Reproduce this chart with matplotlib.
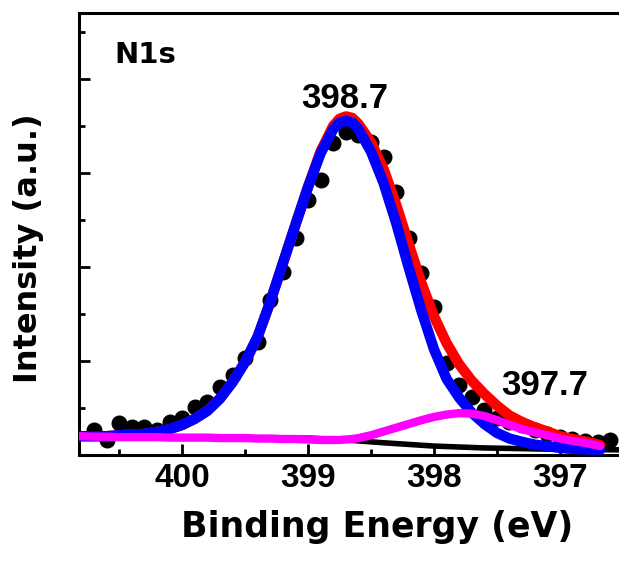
import matplotlib
matplotlib.use('Agg')
import matplotlib.pyplot as plt
from matplotlib.ticker import MultipleLocator

# measured points (binding energy, intensity)
be_data = [400.7, 400.6, 400.5, 400.4, 400.3, 400.2, 400.1, 400.0, 399.9, 399.8,
           399.7, 399.6, 399.5, 399.4, 399.3, 399.2, 399.1, 399.0, 398.9, 398.8,
           398.7, 398.6, 398.5, 398.4, 398.3, 398.2, 398.1, 398.0, 397.9, 397.8,
           397.7, 397.6, 397.5, 397.4, 397.3, 397.2, 397.1, 397.0, 396.9, 396.8,
           396.7, 396.6]
int_data = [0.53, 0.32, 0.68, 0.60, 0.60, 0.53, 0.70, 0.79, 1.02, 1.13,
            1.45, 1.70, 2.06, 2.40, 3.30, 3.89, 4.62, 5.43, 5.85, 6.64,
            6.87, 6.81, 6.66, 6.34, 5.60, 4.62, 3.87, 3.15, 1.96, 1.49,
            1.23, 0.96, 0.79, 0.70, 0.64, 0.53, 0.45, 0.38, 0.34, 0.30,
            0.28, 0.32]

# fitted curves
be_fit = [400.82, 400.7, 400.6, 400.5, 400.4, 400.3, 400.2, 400.1, 400.0, 399.9,
          399.8, 399.7, 399.6, 399.5, 399.4, 399.3, 399.2, 399.1, 399.0, 398.9,
          398.8, 398.75, 398.7, 398.65, 398.6, 398.5, 398.4, 398.3, 398.2, 398.1,
          398.0, 397.9, 397.8, 397.7, 397.6, 397.5, 397.4, 397.3, 397.2, 397.1,
          397.0, 396.9, 396.8, 396.68]
peak_main = [0.40, 0.40, 0.40, 0.42, 0.43, 0.45, 0.49, 0.55, 0.64, 0.77,
             0.94, 1.20, 1.55, 1.98, 2.52, 3.26, 4.08, 4.90, 5.70, 6.42,
             6.93, 7.07, 7.11, 7.07, 6.93, 6.45, 5.78, 4.93, 3.98, 3.07,
             2.25, 1.62, 1.22, 0.90, 0.66, 0.47, 0.35, 0.28, 0.22, 0.19,
             0.15, 0.13, 0.12, 0.11]
envelope = [0.40, 0.40, 0.40, 0.42, 0.43, 0.45, 0.49, 0.55, 0.64, 0.77,
            0.94, 1.20, 1.55, 1.98, 2.52, 3.26, 4.08, 4.90, 5.71, 6.46,
            7.00, 7.15, 7.20, 7.17, 7.04, 6.65, 6.08, 5.32, 4.48, 3.66,
            2.95, 2.38, 1.93, 1.58, 1.30, 1.05, 0.84, 0.70, 0.59, 0.50,
            0.40, 0.34, 0.29, 0.21]
peak_small = [0.40, 0.39, 0.39, 0.38, 0.38, 0.38, 0.38, 0.37, 0.37, 0.37,
              0.37, 0.36, 0.36, 0.36, 0.35, 0.35, 0.34, 0.34, 0.33, 0.32,
              0.32, 0.32, 0.33, 0.34, 0.36, 0.42, 0.50, 0.58, 0.66, 0.74,
              0.81, 0.86, 0.89, 0.88, 0.83, 0.74, 0.64, 0.55, 0.48, 0.42,
              0.35, 0.30, 0.26, 0.19]

be_bg = [400.82, 399.0, 398.7, 398.4, 398.0, 397.6, 397.0, 396.53]
bg = [0.38, 0.36, 0.32, 0.26, 0.19, 0.15, 0.12, 0.11]

plt.rcParams['axes.linewidth'] = 2.2

fig = plt.figure(figsize=(6.19, 5.61), dpi=100)
ax = fig.add_axes([79/619, 106/561, 540/619, 442/561])

ax.plot(be_bg, bg, color='black', lw=4, zorder=1)
ax.plot(be_data, int_data, 'o', color='black', ms=10.5, zorder=2)
ax.plot(be_fit, envelope, color='#ff0000', lw=7.5, zorder=3,
        solid_joinstyle='round', solid_capstyle='round')
ax.plot(be_fit, peak_main, color='#0000ff', lw=7.5, zorder=4,
        solid_joinstyle='round', solid_capstyle='round')
ax.plot(be_fit, peak_small, color='#ff00ff', lw=6, zorder=5,
        solid_joinstyle='round', solid_capstyle='round')

ax.set_xlim(400.82, 396.53)
ax.set_ylim(0, 9.4)
ax.spines['right'].set_visible(False)

ax.xaxis.set_major_locator(MultipleLocator(1))
ax.xaxis.set_minor_locator(MultipleLocator(0.5))
ax.yaxis.set_major_locator(MultipleLocator(2))
ax.yaxis.set_minor_locator(MultipleLocator(1))
ax.tick_params(which='both', direction='in', top=False, right=False, width=2)
ax.tick_params(which='major', length=8)
ax.tick_params(which='minor', length=4.5)
ax.tick_params(axis='x', pad=6)
ax.set_yticklabels([])
ax.set_xticks([400, 399, 398, 397])
ax.set_xticklabels(['400', '399', '398', '397'], fontsize=24, fontweight='bold',
                   family='Liberation Sans')

ax.set_xlabel('Binding Energy (eV)', fontsize=25, fontweight='bold')
ax.xaxis.set_label_coords(0.552, -0.125)
ax.set_ylabel('Intensity (a.u.)', fontsize=23, fontweight='bold')
ax.yaxis.set_label_coords(-0.064, 0.468)

ax.text(400.54, 8.34, 'N1s', fontsize=21, fontweight='bold', ha='left', va='baseline')
ax.text(398.71, 7.38, '398.7', fontsize=25, fontweight='bold', ha='center',
        va='baseline', family='Liberation Sans')
ax.text(397.12, 1.28, '397.7', fontsize=25, fontweight='bold', ha='center',
        va='baseline', family='Liberation Sans')

plt.savefig('out.png', dpi=100)
